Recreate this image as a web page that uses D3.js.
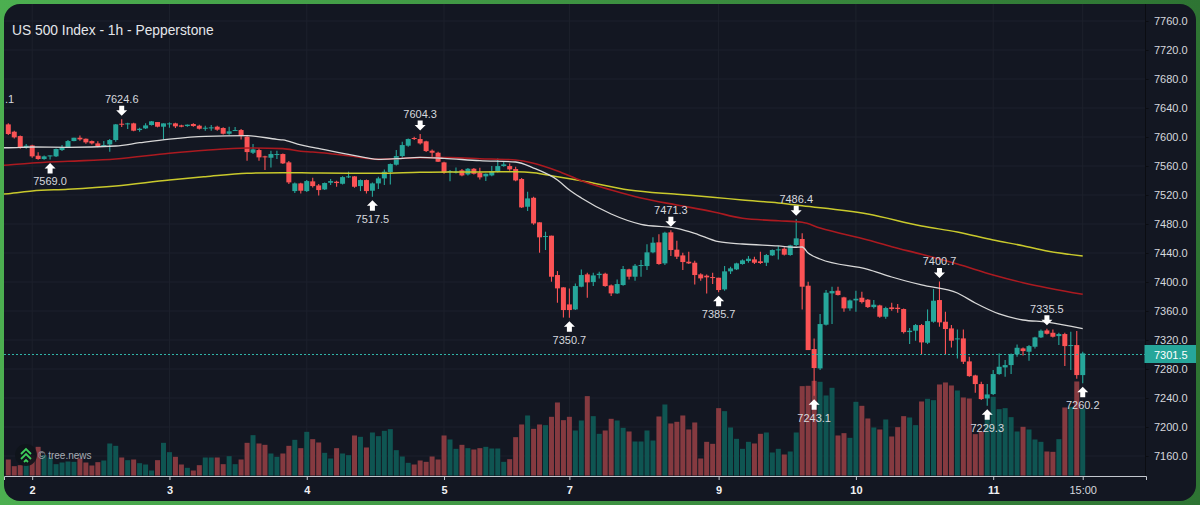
<!DOCTYPE html>
<html>
<head>
<meta charset="utf-8">
<script src="https://cdn.jsdelivr.net/npm/d3@7"></script>
<style>
  html, body { margin: 0; padding: 0; background: #3d8f41; overflow: hidden; }
  svg { display: block; font-family: "Liberation Sans", Arial, sans-serif; }
</style>
</head>
<body>
<svg width="1200" height="505"></svg>
<script>
const opens = [
  7617.4,7607.3,7601.3,7585.7,7588.4,7574.2,7569.6,7573.7,7573.3,7582.0,
  7586.1,7594.4,7599.0,7597.6,7594.4,7591.2,7587.5,7589.8,7595.8,7618.3,
  7617.9,7618.8,7609.6,7611.9,7616.5,7620.6,7614.2,7617.9,7618.8,7616.0,
  7615.1,7617.9,7615.6,7611.4,7611.9,7614.2,7612.4,7604.5,7608.7,7609.6,
  7600.4,7578.3,7582.0,7573.3,7571.4,7575.6,7576.5,7565.0,7525.4,7536.0,
  7525.4,7538.8,7533.2,7527.7,7536.9,7538.3,7535.5,7544.7,7545.7,7532.3,
  7540.6,7525.9,7536.0,7542.9,7551.6,7561.8,7573.7,7588.0,7598.6,7597.2,
  7594.0,7581.1,7578.3,7565.0,7551.6,7551.2,7554.0,7548.4,7556.2,7550.7,
  7545.7,7547.0,7552.6,7559.9,7559.9,7555.8,7542.0,7503.8,7516.2,7482.3,
  7462.5,7463.9,7409.6,7392.6,7369.1,7362.2,7393.5,7410.5,7399.9,7409.6,
  7411.4,7395.3,7384.3,7395.8,7417.4,7407.3,7422.0,7422.0,7440.9,7454.7,
  7425.7,7468.5,7444.6,7436.7,7428.0,7426.6,7410.5,7408.7,7406.8,7405.9,
  7389.8,7414.7,7417.4,7424.8,7428.9,7431.2,7428.5,7426.6,7436.7,7443.6,
  7445.9,7437.2,7451.0,7459.3,7394.9,7307.5,7280.8,7341.1,7384.3,7388.0,
  7378.8,7363.6,7374.6,7378.3,7375.6,7365.4,7367.7,7352.1,7365.0,7364.5,
  7362.7,7330.9,7332.8,7340.6,7316.2,7345.2,7375.1,7345.2,7336.0,7321.3,
  7322.2,7290.5,7271.1,7259.2,7239.4,7245.4,7273.0,7282.2,7285.4,7300.1,
  7308.4,7303.8,7310.7,7323.6,7333.2,7330.0,7325.4,7328.2,7312.1,7313.0,
  7271.6
];
const highs = [
  7618.8,7608.7,7602.2,7590.3,7589.4,7578.8,7574.6,7574.6,7584.3,7588.9,
  7595.8,7599.0,7602.2,7598.1,7595.3,7594.0,7594.4,7597.2,7617.9,7624.6,
  7619.7,7619.7,7612.8,7618.8,7622.0,7620.6,7618.8,7620.2,7619.7,7617.0,
  7617.4,7618.8,7617.0,7615.6,7616.5,7615.6,7613.3,7614.2,7613.7,7611.0,
  7601.8,7590.3,7584.8,7574.2,7581.1,7581.1,7577.4,7566.8,7537.4,7536.9,
  7540.6,7543.8,7535.1,7537.4,7542.0,7539.7,7545.7,7552.1,7546.1,7541.5,
  7541.5,7537.4,7545.2,7555.3,7563.6,7582.0,7593.5,7598.1,7600.4,7604.3,
  7594.9,7582.9,7579.7,7565.9,7554.4,7558.1,7555.8,7557.2,7557.2,7557.6,
  7549.8,7559.9,7570.5,7565.4,7563.6,7559.0,7543.4,7524.5,7517.6,7482.3,
  7469.4,7463.9,7415.1,7392.6,7391.2,7398.1,7417.4,7412.8,7412.8,7414.2,
  7412.8,7396.7,7403.6,7422.0,7418.3,7424.8,7430.3,7451.9,7461.6,7465.7,
  7469.4,7471.3,7457.0,7440.4,7441.8,7429.4,7411.9,7410.5,7412.8,7405.9,
  7422.0,7421.1,7426.6,7431.2,7435.8,7434.9,7441.8,7438.6,7445.0,7449.6,
  7447.8,7451.5,7486.4,7467.1,7400.4,7322.2,7355.8,7388.9,7393.5,7393.5,
  7379.7,7376.0,7388.0,7386.6,7376.5,7375.1,7368.7,7365.9,7371.4,7369.6,
  7363.6,7336.5,7342.0,7342.0,7362.2,7390.3,7400.7,7359.0,7340.6,7334.6,
  7334.6,7296.9,7272.1,7262.4,7259.2,7278.5,7301.5,7292.3,7301.5,7313.9,
  7309.8,7313.0,7324.5,7334.6,7335.5,7334.6,7330.0,7330.0,7331.4,7332.3,
  7303.8
];
const lows = [
  7602.7,7598.1,7583.8,7583.8,7571.4,7568.7,7568.7,7569.0,7572.3,7580.6,
  7585.2,7594.0,7594.9,7590.7,7589.8,7585.7,7586.6,7579.7,7593.5,7613.7,
  7611.0,7607.8,7607.3,7611.0,7616.0,7613.3,7596.7,7612.8,7612.4,7613.3,
  7614.2,7614.2,7610.5,7608.7,7608.7,7608.7,7603.6,7603.2,7608.2,7596.7,
  7567.3,7576.5,7567.3,7554.4,7558.1,7569.6,7562.7,7535.1,7522.7,7522.2,
  7524.0,7530.5,7519.4,7526.8,7533.7,7531.4,7534.6,7543.4,7530.0,7525.4,
  7522.2,7517.5,7528.2,7533.7,7534.6,7560.8,7571.0,7586.6,7595.8,7589.8,
  7579.2,7571.0,7565.4,7549.3,7538.8,7549.8,7545.7,7547.0,7548.4,7541.5,
  7539.2,7545.7,7551.2,7559.0,7553.5,7538.8,7502.0,7497.8,7479.0,7440.4,
  7444.1,7400.4,7371.4,7351.2,7350.7,7361.3,7392.6,7378.3,7394.4,7405.0,
  7393.5,7380.6,7383.4,7394.9,7403.6,7401.8,7407.3,7416.5,7439.5,7423.9,
  7423.4,7435.8,7431.7,7416.5,7424.8,7396.7,7401.8,7384.3,7397.2,7385.7,
  7388.0,7411.0,7416.5,7423.9,7426.6,7424.8,7424.8,7422.0,7435.8,7431.2,
  7436.7,7436.3,7449.6,7362.2,7306.1,7243.1,7278.5,7340.1,7342.0,7381.5,
  7359.0,7360.4,7359.0,7370.5,7364.1,7363.6,7350.7,7349.3,7360.4,7357.6,
  7329.1,7314.4,7319.0,7300.6,7314.4,7343.8,7338.3,7300.6,7309.8,7294.6,
  7286.8,7269.3,7247.2,7237.1,7229.3,7244.0,7272.1,7269.3,7273.0,7296.9,
  7298.7,7291.4,7308.4,7322.7,7327.7,7323.6,7313.0,7284.0,7278.5,7266.5,
  7260.2
];
const closes = [
  7604.1,7599.5,7585.7,7588.0,7573.3,7569.6,7573.3,7574.6,7583.4,7586.1,
  7594.4,7599.0,7596.7,7592.6,7591.2,7587.5,7588.9,7595.8,7617.4,7617.0,
  7618.8,7608.7,7611.4,7616.0,7621.6,7614.2,7618.8,7618.8,7614.7,7614.2,
  7617.0,7615.1,7611.4,7612.8,7613.3,7610.1,7604.5,7607.8,7609.6,7601.3,
  7579.2,7582.9,7571.9,7571.9,7576.5,7576.5,7563.6,7537.4,7536.0,7525.9,
  7539.2,7532.3,7526.8,7536.5,7539.2,7536.5,7544.7,7545.7,7531.4,7540.6,
  7525.4,7536.0,7542.9,7552.1,7562.7,7573.7,7588.9,7597.2,7597.2,7591.2,
  7580.6,7578.3,7565.9,7550.7,7553.0,7552.1,7547.0,7556.2,7549.3,7544.3,
  7549.3,7552.6,7559.9,7562.2,7555.3,7540.1,7502.9,7515.3,7480.8,7461.6,
  7463.4,7407.3,7391.2,7361.3,7361.3,7394.4,7409.6,7399.5,7409.1,7411.4,
  7394.4,7384.3,7397.2,7417.9,7407.3,7422.5,7423.4,7440.9,7454.2,7424.8,
  7468.0,7444.1,7434.9,7427.5,7425.7,7409.6,7405.0,7406.4,7405.9,7388.9,
  7414.7,7418.8,7425.7,7429.8,7432.1,7426.6,7426.2,7437.2,7444.1,7445.0,
  7437.7,7450.5,7460.2,7393.5,7306.1,7281.3,7342.0,7385.2,7387.5,7382.0,
  7363.6,7374.6,7376.9,7372.3,7365.4,7368.7,7352.1,7364.1,7362.7,7362.7,
  7330.9,7332.8,7340.6,7316.7,7346.1,7374.2,7344.3,7335.1,7319.0,7322.2,
  7290.0,7270.2,7259.2,7238.5,7244.9,7273.0,7283.1,7285.4,7300.6,7309.3,
  7304.7,7311.6,7323.6,7332.8,7328.6,7324.5,7328.2,7311.6,7313.0,7271.6,
  7301.5
];
const volumes = [
  48,28,31,36,61,86,61,54,34,39,
  42,41,51,39,30,40,45,96,89,54,
  46,48,37,33,15,46,98,70,56,33,
  23,15,31,54,54,54,34,58,34,48,
  98,121,96,92,66,56,66,89,107,82,
  131,109,99,68,51,82,66,61,120,116,
  84,129,118,134,139,76,57,38,33,45,
  41,57,48,120,108,80,92,82,78,82,
  86,81,81,41,49,115,153,180,140,153,
  151,176,219,166,176,135,165,238,178,125,
  135,170,165,143,132,102,102,135,105,177,
  213,156,161,180,138,159,51,101,95,202,
  193,144,110,80,101,96,125,129,69,80,
  63,72,129,268,269,284,281,240,263,120,
  127,113,221,209,171,144,138,168,117,145,
  178,174,151,222,230,226,273,279,270,255,
  234,231,124,131,181,236,199,202,175,132,
  146,138,108,101,72,71,109,204,206,282,
  201
];

const whiteIdx = [-1,0,4,10,18,22,27,33,40,45,46,49,51,57,62,65,69,73,79,85,88,92,94,96,101,106,112,115,119,123,129,132,133,134,136,144,148,153,159,162,166,170,174,180];
const whiteMa = [7585.2,7585.2,7586.2,7585.8,7587.6,7592.1,7597.2,7601.0,7601.8,7596.8,7595.9,7589.0,7585.8,7576.1,7569.2,7570.1,7572.0,7570.6,7567.3,7565.5,7557.2,7540.7,7526.9,7515.9,7493.8,7479.6,7474.1,7467.2,7455.6,7452.4,7449.7,7447.9,7448.3,7440.0,7431.7,7417.5,7406.9,7395.9,7384.8,7371.0,7355.9,7347.6,7344.8,7335.6];
const redIdx = [-1,0,4,10,18,27,33,40,46,49,51,57,62,69,74,79,85,88,92,96,101,106,112,118,123,129,133,136,144,148,153,159,165,170,180];
const redMa = [7560.9,7561.4,7564.1,7566.5,7569.7,7577.5,7581.7,7584.8,7583.9,7580.3,7579.3,7574.2,7569.2,7571.5,7571.5,7570.1,7568.3,7563.7,7553.1,7539.7,7526.9,7515.9,7506.2,7497.0,7487.9,7484.5,7482.3,7474.5,7457.9,7448.7,7438.2,7424.8,7409.7,7399.0,7383.0];
const yellowIdx = [-1,0,4,10,18,27,33,40,46,51,57,62,69,74,79,85,88,92,96,104,112,118,123,129,133,144,153,159,165,170,174,180];
const yellowMa = [7521.2,7521.8,7525.5,7527.9,7532.4,7540.7,7545.2,7549.9,7550.8,7550.3,7549.9,7549.9,7551.3,7551.7,7551.7,7552.1,7550.8,7545.2,7539.7,7526.9,7521.0,7517.0,7513.1,7509.0,7505.2,7493.8,7477.2,7469.0,7457.9,7450.0,7442.8,7435.9];

const priceTicks = [7160,7200,7240,7280,7320,7360,7400,7440,7480,7520,7560,7600,7640,7680,7720,7760];
const timeIdx = [4,27,50,73,94,119,142,165,180];
const timeLabels = ["2","3","4","5","7","9","10","11","15:00"];
const highMarks = [19,69,111,132,156,174];
const lowMarks = [7,61,94,119,135,164,180];
const lastPrice = 7301.5;

const upColor = "#26a69a", downColor = "#fb5355";
const upVol = "#0f5552", downVol = "#853a40";
const textColor = "#d6d8de", gridColor = "#1d212c";

const svg = d3.select("svg");

// green frame behind the panel
const defs = svg.append("defs");
const grad = defs.append("linearGradient").attr("id", "frame");
grad.append("stop").attr("offset", "0%").attr("stop-color", "#4caf50");
grad.append("stop").attr("offset", "100%").attr("stop-color", "#2e7433");
svg.append("rect").attr("width", 1200).attr("height", 505).attr("fill", "url(#frame)");
svg.append("rect")
    .attr("x", 4).attr("y", 4).attr("width", 1192).attr("height", 497)
    .attr("rx", 16).attr("fill", "#131722");

defs.append("clipPath").attr("id", "plot")
    .append("rect").attr("x", 4).attr("y", 4).attr("width", 1142).attr("height", 472);

const x = d3.scaleLinear().domain([-0.72, 190.6]).range([4, 1146]);
const y = d3.scaleLinear().domain([7160, 7760]).range([456, 21]);
const yVol = d3.scaleLinear().domain([0, 284]).range([475.5, 380.8]);

// grid
svg.append("g").selectAll("line").data(priceTicks).join("line")
    .attr("x1", 4).attr("x2", 1146)
    .attr("y1", d => y(d)).attr("y2", d => y(d))
    .attr("stroke", gridColor);
svg.append("g").selectAll("line").data(timeIdx).join("line")
    .attr("x1", d => x(d)).attr("x2", d => x(d))
    .attr("y1", 4).attr("y2", 476)
    .attr("stroke", gridColor);

const plot = svg.append("g").attr("clip-path", "url(#plot)");

const isUp = i => closes[i] >= opens[i];

// volume
plot.append("g").selectAll("rect").data(volumes).join("rect")
    .attr("x", (d, i) => x(i) - 2.5)
    .attr("width", 5)
    .attr("y", d => yVol(d))
    .attr("height", d => yVol(0) - yVol(d))
    .attr("fill", (d, i) => isUp(i) ? upVol : downVol);

// candles
const candles = plot.append("g").selectAll("g").data(d3.range(opens.length)).join("g");
candles.append("line")
    .attr("x1", i => x(i)).attr("x2", i => x(i))
    .attr("y1", i => y(highs[i])).attr("y2", i => y(lows[i]))
    .attr("stroke", i => isUp(i) ? upColor : downColor)
    .attr("stroke-width", 1.1);
candles.append("rect")
    .attr("x", i => x(i) - 2.5)
    .attr("width", 5)
    .attr("y", i => y(Math.max(opens[i], closes[i])))
    .attr("height", i => Math.max(1, Math.abs(y(opens[i]) - y(closes[i]))))
    .attr("fill", i => isUp(i) ? upColor : downColor);

// moving averages
const line = d3.line().curve(d3.curveMonotoneX);
function drawMa(idx, vals, color, w) {
    plot.append("path")
        .attr("d", line(idx.map((d, i) => [x(d), y(vals[i])])))
        .attr("fill", "none")
        .attr("stroke", color)
        .attr("stroke-width", w);
}
drawMa(yellowIdx, yellowMa, "#c9c92c", 1.5);
drawMa(redIdx, redMa, "#ab1a20", 1.6);
drawMa(whiteIdx, whiteMa, "#d8d8d8", 1.3);

// last price line
const lastY = Math.ceil(y(lastPrice)) + 0.5;
plot.append("line")
    .attr("x1", 4).attr("x2", 1146)
    .attr("y1", lastY).attr("y2", lastY)
    .attr("stroke", "#2fb5a8")
    .attr("stroke-dasharray", "2 2");

// logo
const logo = svg.append("g").attr("transform", "translate(26,455)");
logo.append("circle").attr("r", 11).attr("fill", "#10141b").attr("opacity", 0.9);
logo.append("path")
    .attr("d", "M-5,-1 L0,-6 L5,-1 M-5,4 L0,-1 L5,4 M-2,7 L0,5 L2,7")
    .attr("fill", "none").attr("stroke", "#3ecf5c").attr("stroke-width", 1.8);
svg.append("text")
    .attr("x", 38).attr("y", 458.5)
    .attr("font-size", 10).attr("fill", "#a9adb5")
    .text("© tree.news");

// high / low markers
const fmt = d3.format(".1f");
const hi = svg.append("g").selectAll("g").data(highMarks).join("g")
    .attr("transform", i => `translate(${x(i)},${y(highs[i])})`);
hi.append("path")
    .attr("d", "M0,-3.5 L-5.5,-9 L-2.5,-9 L-2.5,-13.5 L2.5,-13.5 L2.5,-9 L5.5,-9Z")
    .attr("fill", "#fff");
hi.append("text")
    .attr("y", -16).attr("text-anchor", "middle")
    .attr("font-size", 11).attr("fill", textColor)
    .text(i => fmt(highs[i]));
const lo = svg.append("g").selectAll("g").data(lowMarks).join("g")
    .attr("transform", i => `translate(${x(i)},${y(lows[i])})`);
lo.append("path")
    .attr("d", "M0,3.5 L-5.5,9 L-2.5,9 L-2.5,14 L2.5,14 L2.5,9 L5.5,9Z")
    .attr("fill", "#fff");
lo.append("text")
    .attr("y", 26).attr("text-anchor", "middle")
    .attr("font-size", 11).attr("fill", textColor)
    .text(i => fmt(lows[i]));

// clipped label at the left edge
svg.append("text")
    .attr("x", 5).attr("y", 103)
    .attr("font-size", 11).attr("fill", textColor)
    .text(".1");

// axes
const yAxis = d3.axisRight(y).tickValues(priceTicks).tickFormat(fmt).tickSize(3).tickPadding(5.5);
const gy = svg.append("g").attr("transform", "translate(1145.5,0)").call(yAxis);
gy.select(".domain").remove();
gy.selectAll("line").attr("stroke", "#0b0d12");
gy.selectAll("text").attr("fill", textColor).attr("font-size", 11).attr("font-family", "Liberation Sans");
svg.append("line")
    .attr("x1", 1145.5).attr("x2", 1145.5).attr("y1", 4).attr("y2", 476)
    .attr("stroke", "#0b0d12");

const xAxis = d3.axisBottom(x).tickValues(timeIdx)
    .tickFormat((d, i) => timeLabels[i]).tickSize(4).tickPadding(6);
const gx = svg.append("g").attr("transform", "translate(0,476)").call(xAxis);
gx.select(".domain").attr("stroke", "#c4c8cf");
gx.selectAll("line").attr("stroke", "#c4c8cf");
gx.selectAll("text")
    .attr("fill", (d, i) => i === timeIdx.length - 1 ? textColor : "#f0f1f3")
    .attr("font-weight", (d, i) => i === timeIdx.length - 1 ? "normal" : "bold")
    .attr("font-size", 11).attr("font-family", "Liberation Sans");

// last price tag
svg.append("rect")
    .attr("x", 1144.5).attr("y", 345).attr("width", 51.5).attr("height", 18)
    .attr("fill", upColor);
svg.append("text")
    .attr("x", 1154).attr("y", lastY + 4)
    .attr("font-size", 11).attr("fill", "#fff")
    .text(fmt(lastPrice));

// title
svg.append("text")
    .attr("x", 12).attr("y", 35)
    .attr("font-size", 13.8).attr("fill", "#e4e6ea")
    .text("US 500 Index - 1h - Pepperstone");
</script>
</body>
</html>
